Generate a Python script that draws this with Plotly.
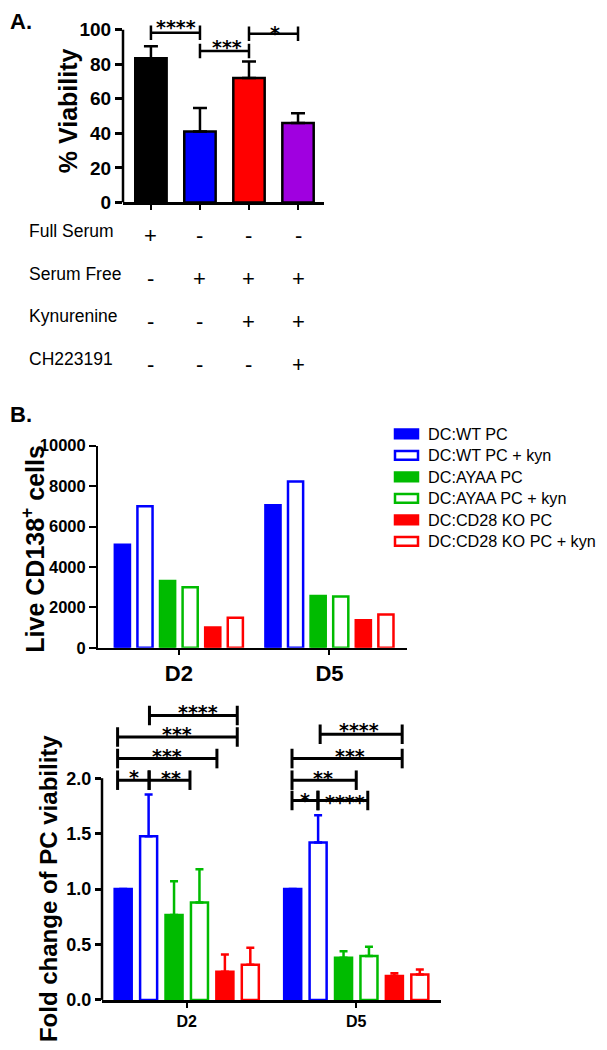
import plotly.graph_objects as go

# ---------------- data ----------------
# Panel A
A_groups = ["Full Serum", "Serum Free", "Serum Free + Kyn", "Serum Free + Kyn + CH223191"]
A_viability = [83.5, 41.0, 72.0, 46.0]
A_sem = [7.0, 13.7, 9.6, 5.7]
A_colors = ["#000000", "#0000FF", "#FF0000", "#A000E0"]
A_ticks = [0, 20, 40, 60, 80, 100]
A_brackets = [  # (from group, to group, height, label, label x, label y)
    (0, 1, 98.3, "****", 0.52, 104.4),
    (1, 2, 87.7, "***", 1.55, 93.0),
    (2, 3, 97.7, "*", 2.53, 101.0),
]

# condition table under panel A
table_rows = ["Full Serum", "Serum Free", "Kynurenine", "CH223191"]
table_signs = [
    ["+", "-", "-", "-"],
    ["-", "+", "+", "+"],
    ["-", "-", "+", "+"],
    ["-", "-", "-", "+"],
]

# Panel B
days = ["D2", "D5"]
series_names = ["DC:WT PC", "DC:WT PC + kyn", "DC:AYAA PC", "DC:AYAA PC + kyn",
                "DC:CD28 KO PC", "DC:CD28 KO PC + kyn"]
series_colors = ["#0000FF", "#0000FF", "#00BB00", "#00BB00", "#FF0000", "#FF0000"]
series_filled = [True, False, True, False, True, False]

live_cells = [
    [5100, 7050],
    [7000, 8230],
    [3300, 2560],
    [3000, 2540],
    [1000, 1360],
    [1480, 1650],
]
live_ticks = [0, 2000, 4000, 6000, 8000, 10000]

fold_change = [
    [1.0, 1.0],
    [1.476, 1.42],
    [0.765, 0.38],
    [0.879, 0.397],
    [0.253, 0.215],
    [0.318, 0.23],
]
fold_sem = [
    [0.0, 0.0],
    [0.377, 0.245],
    [0.305, 0.06],
    [0.30, 0.083],
    [0.157, 0.025],
    [0.152, 0.044],
]
fold_ticks = [0.0, 0.5, 1.0, 1.5, 2.0]
C_brackets = [  # (x0, x1, height, label, label x, label y) in axis units
    (-0.408, -0.222, 1.982, "*", -0.314, 2.053),
    (-0.222, 0.019, 1.982, "**", -0.094, 2.044),
    (-0.408, 0.178, 2.177, "***", -0.118, 2.248),
    (-0.408, 0.298, 2.372, "***", -0.055, 2.440),
    (-0.220, 0.298, 2.566, "****", 0.065, 2.646),
    (0.621, 0.774, 1.799, "*", 0.696, 1.852),
    (0.774, 1.068, 1.799, "****", 0.931, 1.832),
    (0.621, 1.000, 1.982, "**", 0.804, 2.044),
    (0.621, 1.271, 2.177, "***", 0.961, 2.248),
    (0.787, 1.271, 2.396, "****", 1.019, 2.484),
]

# ---------------- helpers ----------------
W, H = 607, 1050
PAGE_OFFSET = 8  # default body margin of the html page
FONT = "Arial, 'Liberation Sans', sans-serif"
STAR_FONT = "'DejaVu Sans', sans-serif"


def pxx(p):
    return (p - PAGE_OFFSET) / W


def pxy(p):
    return 1 - (p - PAGE_OFFSET) / H


fig = go.Figure()

# ---------------- Panel A ----------------
fig.add_trace(go.Bar(
    x=A_groups, y=A_viability, width=0.64,
    marker=dict(color=A_colors, line=dict(color="black", width=2.5)),
    error_y=dict(type="data", array=A_sem, arrayminus=[0] * len(A_sem), symmetric=False,
                 color="black", thickness=2.5, width=7),
    xaxis="x", yaxis="y", showlegend=False,
))

# ---------------- Panel B (top) ----------------
for name, col, filled, vals in zip(series_names, series_colors, series_filled, live_cells):
    fig.add_trace(go.Bar(
        x=days, y=vals, name=name,
        marker=dict(color=col if filled else "white", line=dict(color=col, width=2.5)),
        xaxis="x2", yaxis="y2", showlegend=False,
    ))

# ---------------- Panel B (bottom) ----------------
for name, col, filled, vals, err in zip(series_names, series_colors, series_filled,
                                         fold_change, fold_sem):
    fig.add_trace(go.Bar(
        x=days, y=vals, name=name,
        marker=dict(color=col if filled else "white", line=dict(color=col, width=2.5)),
        error_y=dict(type="data", array=err, arrayminus=[0] * len(err), symmetric=False,
                     color=col, thickness=2.5, width=4),
        xaxis="x3", yaxis="y3", showlegend=False,
    ))

axis_common = dict(showgrid=False, zeroline=False, linecolor="black", tickcolor="black",
                   ticks="outside")

fig.update_layout(
    width=W, height=H,
    margin=dict(l=0, r=0, t=0, b=0),
    paper_bgcolor="white", plot_bgcolor="white",
    font=dict(family=FONT, color="black"),
    barmode="group", bargap=0.1, bargroupgap=0.33,
    showlegend=False,
    xaxis=dict(domain=[pxx(123), pxx(324)], range=[-0.57, 3.53], anchor="y",
               showline=True, linewidth=2.5, ticklen=5, tickwidth=2,
               showticklabels=False, **axis_common),
    yaxis=dict(domain=[pxy(197), pxy(8)], range=[0, 107.4], anchor="x",
               showline=False, tickvals=A_ticks, ticklen=7, tickwidth=2.5,
               tickfont=dict(size=19, weight="bold"), **axis_common),
    xaxis2=dict(domain=[pxx(98), pxx(407)], range=[-0.537, 1.515], anchor="y2",
                showline=True, linewidth=2, ticklen=5, tickwidth=2,
                tickfont=dict(size=22, weight="bold"), **axis_common),
    yaxis2=dict(domain=[pxy(651), pxy(445)], range=[0, 10000], anchor="x2",
                showline=True, linewidth=2, tickvals=live_ticks, tickformat="d",
                ticklen=7, tickwidth=2,
                tickfont=dict(size=16.5, weight="bold"), **axis_common),
    xaxis3=dict(domain=[pxx(102), pxx(441)], range=[-0.5, 1.5], anchor="y3",
                showline=True, linewidth=2.5, ticklen=5, tickwidth=2,
                tickfont=dict(size=16, weight="bold"), **axis_common),
    yaxis3=dict(domain=[pxy(1010), pxy(699)], range=[0, 2.752], anchor="x3",
                showline=False, tickvals=fold_ticks, tickformat=".1f", ticklen=6,
                tickwidth=2.5, tickfont=dict(size=18, weight="bold"), **axis_common),
)

shapes = []
annotations = []

# y-axis lines that stop at the top tick
shapes.append(dict(type="line", xref="x domain", yref="y", x0=0, x1=0, y0=0, y1=A_ticks[-1],
                   line=dict(color="black", width=2.5)))
shapes.append(dict(type="line", xref="x3 domain", yref="y3", x0=0, x1=0, y0=0,
                   y1=fold_ticks[-1], line=dict(color="black", width=2.5)))


def add_bracket(xr, yr, x0, x1, y, dy, lw):
    shapes.append(dict(type="line", xref=xr, yref=yr, x0=x0, x1=x1, y0=y, y1=y,
                       line=dict(color="black", width=lw)))
    for xv in (x0, x1):
        shapes.append(dict(type="line", xref=xr, yref=yr, x0=xv, x1=xv, y0=y - dy, y1=y + dy,
                           line=dict(color="black", width=lw)))


star_font = dict(family=STAR_FONT, size=19, color="black", weight="bold")

for g0, g1, yv, lab, sx, sy in A_brackets:
    add_bracket("x", "y", g0, g1, yv, 4.2, 2.5)
    annotations.append(dict(xref="x", yref="y", x=sx, y=sy, text=lab, showarrow=False,
                            xanchor="center", yanchor="middle", yshift=-5, font=star_font))

for x0, x1, yv, lab, sx, sy in C_brackets:
    add_bracket("x3", "y3", x0, x1, yv, 0.088, 3)
    annotations.append(dict(xref="x3", yref="y3", x=sx, y=sy, text=lab, showarrow=False,
                            xanchor="center", yanchor="middle", yshift=-5, font=star_font))

# panel letters
annotations.append(dict(xref="paper", yref="paper", x=0, y=pxy(13), text="<b>A.</b>",
                        showarrow=False, xanchor="left", yanchor="middle",
                        font=dict(size=22)))
annotations.append(dict(xref="paper", yref="paper", x=0, y=pxy(413), text="<b>B.</b>",
                        showarrow=False, xanchor="left", yanchor="middle",
                        font=dict(size=22)))

# axis titles
annotations.append(dict(xref="paper", yref="paper", x=pxx(68), y=pxy(104),
                        text="<b>% Viability</b>", textangle=-90, showarrow=False,
                        xanchor="center", yanchor="middle", font=dict(size=25)))
annotations.append(dict(xref="paper", yref="paper", x=pxx(33), y=pxy(550),
                        text="<b>Live CD138<sup>+</sup> cells</b>", textangle=-90,
                        showarrow=False, xanchor="center", yanchor="middle",
                        font=dict(size=25)))
annotations.append(dict(xref="paper", yref="paper", x=pxx(48), y=pxy(897),
                        text="<b>Fold change of PC viability</b>", textangle=-90,
                        showarrow=False, xanchor="center", yanchor="middle",
                        font=dict(size=24)))

# condition table
row0, row_step = 226, 43.6
for i, (lab, signs) in enumerate(zip(table_rows, table_signs)):
    yc = row0 + i * row_step
    annotations.append(dict(xref="paper", yref="paper", x=pxx(27), y=pxy(yc), text=lab,
                            showarrow=False, xanchor="left", yanchor="middle",
                            font=dict(size=17.5)))
    for j, s in enumerate(signs):
        annotations.append(dict(xref="x", yref="paper", x=j, y=pxy(yc + 5), text=s,
                                showarrow=False, xanchor="center", yanchor="middle",
                                font=dict(size=22)))

# custom legend
leg0, leg_step = 433, 21.9
for i, (name, col, filled) in enumerate(zip(series_names, series_colors, series_filled)):
    yc = leg0 + i * leg_step
    shapes.append(dict(type="rect", xref="paper", yref="paper",
                       x0=pxx(395), x1=pxx(418), y0=pxy(yc + 4.5), y1=pxy(yc - 4.5),
                       fillcolor=col if filled else "white",
                       line=dict(color=col, width=2.5)))
    annotations.append(dict(xref="paper", yref="paper", x=pxx(426), y=pxy(yc), text=name,
                            showarrow=False, xanchor="left", yanchor="middle",
                            font=dict(size=16.2)))

fig.update_layout(shapes=shapes, annotations=annotations)

fig.write_html("out.html", config={"displayModeBar": False})
